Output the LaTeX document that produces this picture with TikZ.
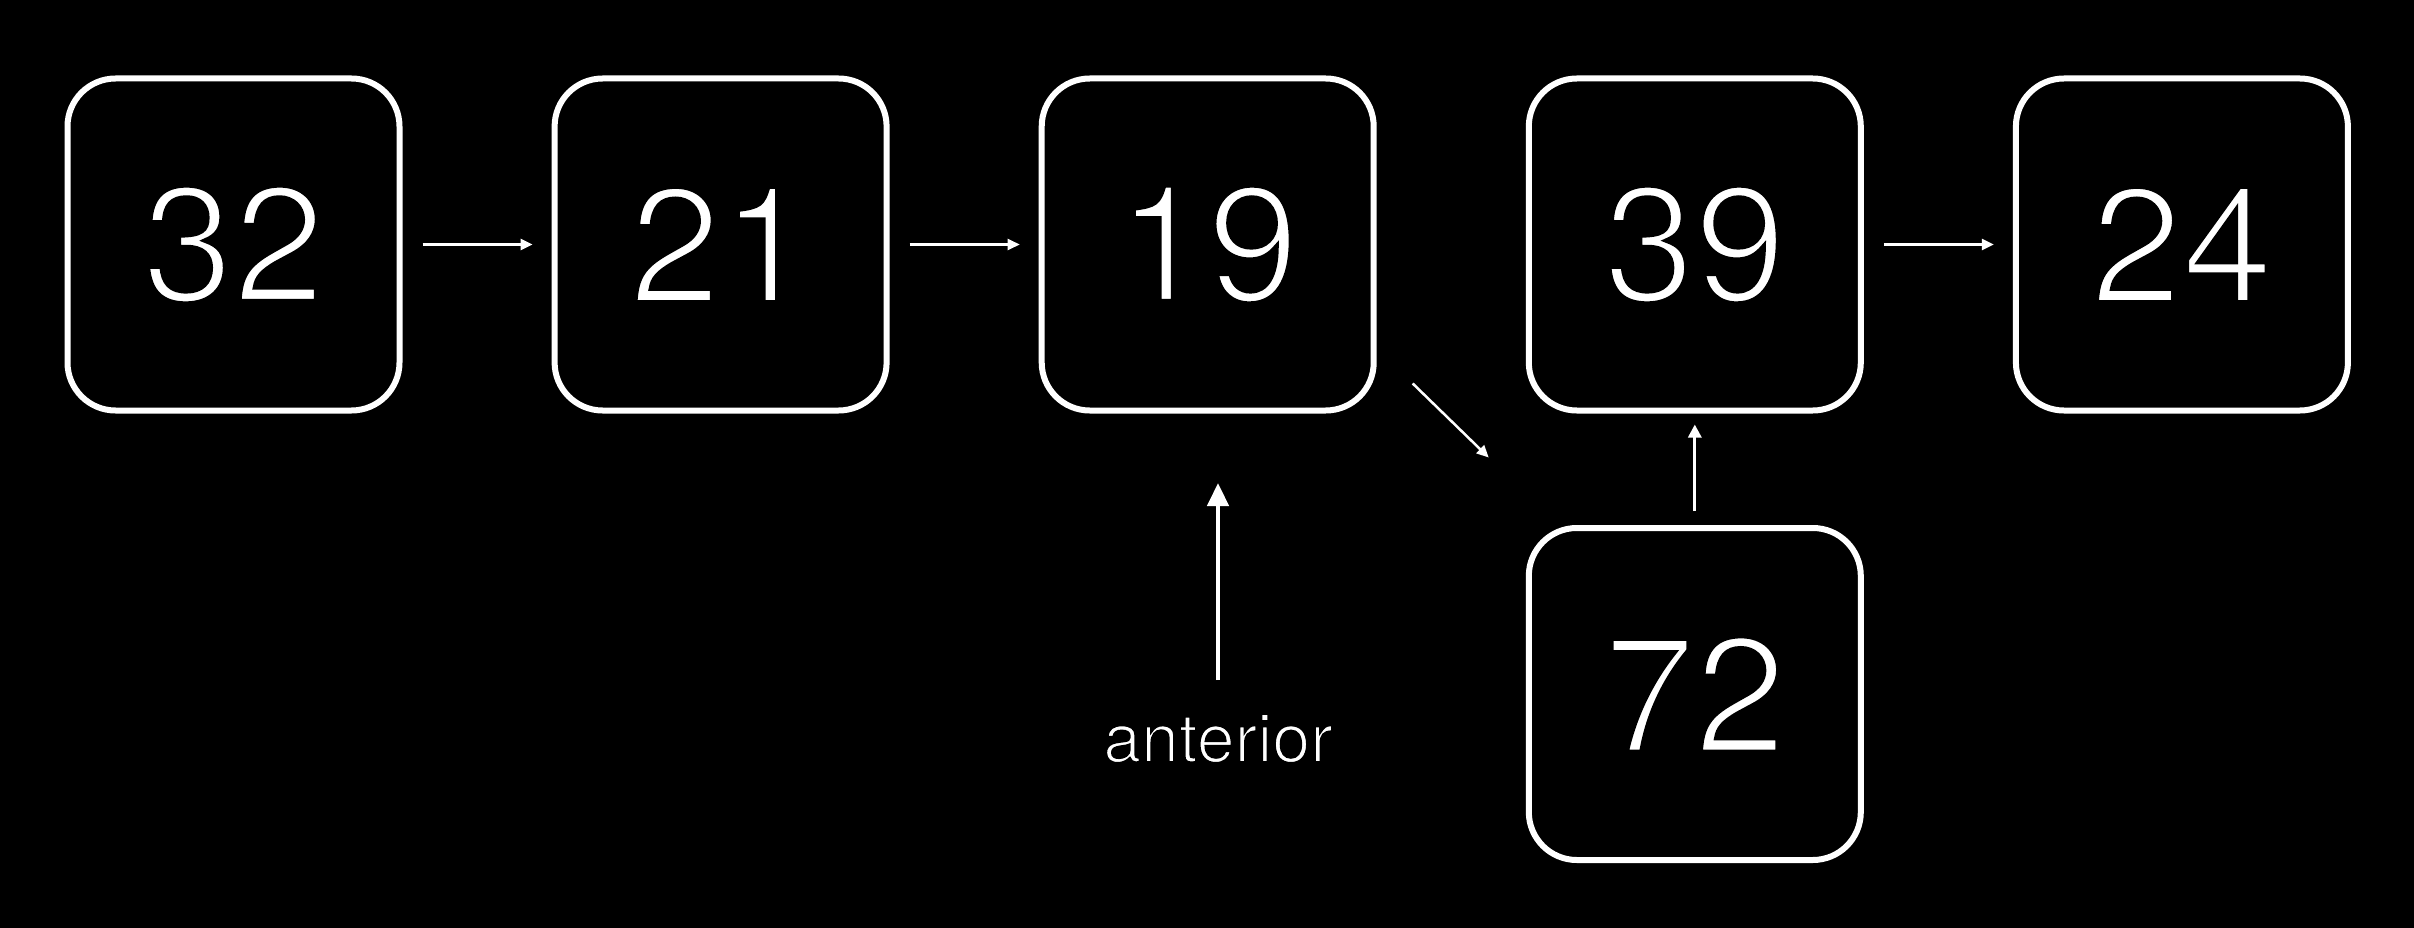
\documentclass[tikz,border=0pt]{standalone}
\usepackage{fontspec}
\setmainfont{TeX Gyre Heros}
\usetikzlibrary{arrows.meta,calc}
\newcommand{\thinglyph}[2]{\special{pdf:code 2 Tr 0 G #1 w}#2\special{pdf:code 0 Tr}}
\begin{document}
\begin{tikzpicture}[x=1pt,y=-1pt,
  cell/.style={draw=white, line width=6pt, rounded corners=48pt, fill=black,
    minimum width=332pt, minimum height=332pt, inner sep=0pt, text=white,
    font=\fontsize{164}{164}\selectfont},
  thinarrow/.style={draw=white, line width=2.5pt, -{Triangle[length=12pt,width=11pt]}},
  midarrow/.style={draw=white, line width=3pt, -{Triangle[length=13pt,width=13pt]}},
  thickarrow/.style={draw=white, line width=4.5pt, -{Triangle[length=23pt,width=21pt]}},
  lbl/.style={text=white, font=\fontsize{68}{68}\selectfont, inner sep=0pt, anchor=base}
]
\fill[black] (0,0) rectangle (2414,928);
\useasboundingbox (0,0) rectangle (2414,928);

\node[cell] (n32) at (233.5,244.5) {\thinglyph{5}{32}};
\node[cell] (n21) at (720.6,244.5) {\thinglyph{5}{21}};
\node[cell] (n19) at (1207.7,244.5) {\thinglyph{5}{19}};
\node[cell] (n39) at (1694.8,244.5) {\thinglyph{5}{39}};
\node[cell] (n24) at (2181.9,244.5) {\thinglyph{5}{24}};
\node[cell] (n72) at (1694.8,694) {\thinglyph{5}{72}};

\draw[thinarrow, shorten <=20pt, shorten >=19pt] (n32.east) -- (n21.west);
\draw[thinarrow, shorten <=20pt, shorten >=19pt] (n21.east) -- (n19.west);
\draw[thinarrow, shorten <=20pt, shorten >=19pt] (n39.east) -- (n24.west);
\draw[midarrow, shorten <=14pt, shorten >=11pt] (n72.north) -- (n39.south);

\coordinate (d1) at ($(n19.south east)+(36,-30)$);
\coordinate (d2) at ($(n19.south east)+(112,44)$);
\draw[thinarrow] (d1) -- (d2);

\node[lbl] (ant) at (1218,762) {\thinglyph{2}{anterior}};
\coordinate (a1) at (1218,680);
\coordinate (a2) at (1218,483);
\draw[thickarrow] (a1) -- (a2);
\end{tikzpicture}
\end{document}
